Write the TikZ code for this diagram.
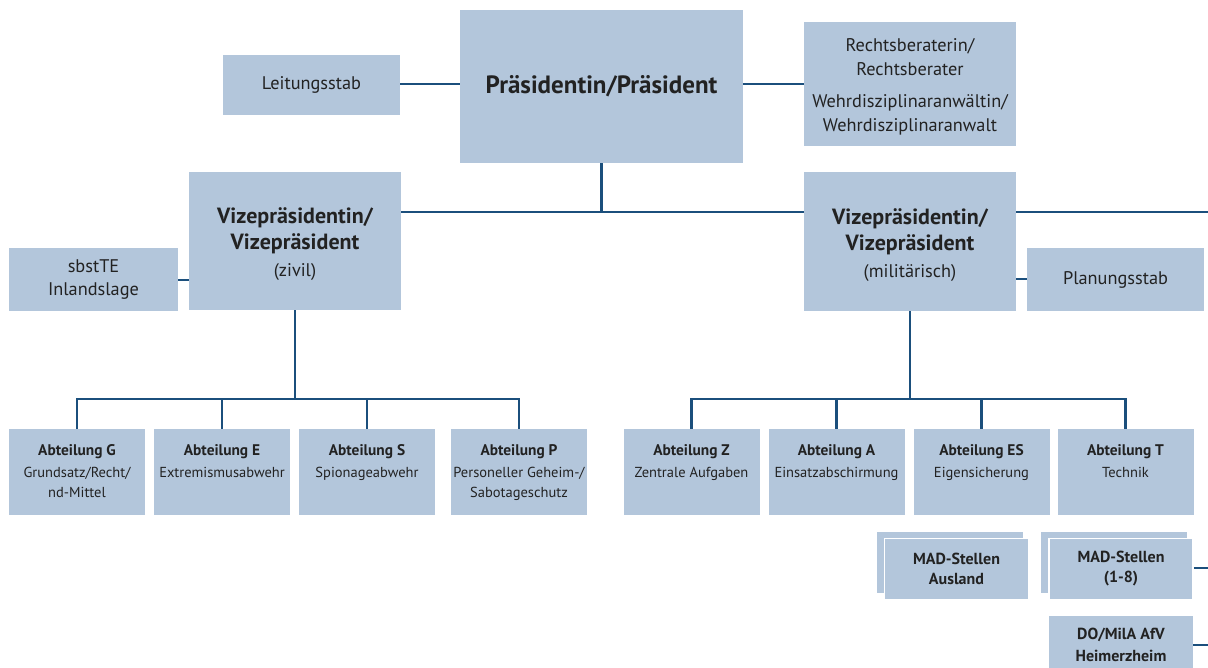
\documentclass[tikz,border=0pt]{standalone}
\usepackage{fontspec}
\setmainfont{PT Sans}
\definecolor{boxfill}{HTML}{B3C6DB}
\definecolor{linec}{HTML}{1B4F7C}
\definecolor{txt}{HTML}{222222}
\begin{document}
\begin{tikzpicture}[x=1pt,y=-1pt,
  box/.style={fill=boxfill,draw=none,inner sep=0pt,align=center,text=txt},
  conn/.style={draw=linec,line width=2.1pt},
  abt/.style={box,minimum width=136pt,minimum height=86pt},
  stackfront/.style={box,draw=white,line width=1.5pt,minimum width=144pt,minimum height=61pt},
  stackback/.style={fill=boxfill,draw=none}
]
\useasboundingbox[fill=white] (0,0) rectangle (1208,668);

% top level
\node[box,minimum width=283pt,minimum height=153pt,font=\fontsize{25}{29}\selectfont\bfseries] (P) at (601.5,86.5) {Präsidentin/Präsident};
\node[box,minimum width=177pt,minimum height=60pt,font=\fontsize{18.3}{22}\selectfont] (L) at (311.5,85) {Leitungsstab};
\node[box,minimum width=212pt,minimum height=124pt] (R) at (910,84) {\begin{minipage}[c][124pt][c]{212pt}\centering\vspace*{6pt}\fontsize{18.3}{24}\selectfont Rechtsberaterin/\par Rechtsberater\par\vspace{8pt}Wehrdisziplinaranwältin/\par Wehrdisziplinaranwalt\par\end{minipage}};

% vice presidents
\newcommand{\vptext}[1]{\begin{minipage}[c][138pt][c]{212pt}\centering\vspace*{7pt}{\fontsize{22}{26}\selectfont\bfseries Vizepräsidentin/\par Vizepräsident\par}\vspace{5pt}{\fontsize{18.3}{22}\selectfont #1\par}\end{minipage}}
\node[box,minimum width=212pt,minimum height=138pt] (VZ) at (295,241) {\vptext{(zivil)}};
\node[box,minimum width=212pt,minimum height=139pt] (VM) at (910,241.5) {\vptext{(militärisch)}};
\node[box,minimum width=169pt,minimum height=63pt,font=\fontsize{18.3}{23}\selectfont] (SB) at (93.5,279.5) {sbstTE\\Inlandslage};
\node[box,minimum width=177pt,minimum height=63pt,font=\fontsize{18.3}{22}\selectfont] (PL) at (1115.5,279.5) {Planungsstab};

% departments
\newcommand{\abtext}[2]{\begin{minipage}[c][86pt][t]{136pt}\centering\vspace*{16pt}{\fontsize{15.4}{18}\selectfont\bfseries #1\par}\vspace{2.5pt}{\fontsize{14.5}{19.5}\selectfont #2\par}\end{minipage}}
\node[abt] (G) at (77,472) {\abtext{Abteilung G}{Grundsatz/Recht/\\nd-Mittel}};
\node[abt] (E) at (222,472) {\abtext{Abteilung E}{Extremismusabwehr}};
\node[abt] (S) at (367,472) {\abtext{Abteilung S}{Spionageabwehr}};
\node[abt] (AP) at (519,472) {\abtext{Abteilung P}{Personeller Geheim-/\\Sabotageschutz}};
\node[abt] (Z) at (691.5,472) {\abtext{Abteilung Z}{Zentrale Aufgaben}};
\node[abt] (A) at (836.5,472) {\abtext{Abteilung A}{Einsatzabschirmung}};
\node[abt] (ES) at (981.5,472) {\abtext{Abteilung ES}{Eigensicherung}};
\node[abt] (T) at (1125.5,472) {\abtext{Abteilung T}{Technik}};

% MAD stacks
\fill[stackback] (877,532) rectangle (1023,593);
\node[stackfront,font=\fontsize{16}{20}\selectfont\bfseries] (MA) at (956.5,569) {MAD-Stellen\\Ausland};
\fill[stackback] (1041,532) rectangle (1187,593);
\node[stackfront,font=\fontsize{16}{20}\selectfont\bfseries] (M18) at (1121,569) {MAD-Stellen\\(1-8)};
\node[box,minimum width=144pt,minimum height=74pt] (DO) at (1121,653) {\begin{minipage}[c][74pt][t]{144pt}\centering\vspace*{12pt}\fontsize{16}{22}\selectfont\bfseries DO/MilA AfV\par Heimerzheim\end{minipage}};

% connector points
\coordinate (j) at (601.5,212);
\coordinate (e1) at (1208,212);
\coordinate (bz) at (295,399);
\coordinate (bm) at (910,399);
\coordinate (e2) at (1208,568);
\coordinate (e3) at (1208,645);

% connectors
\draw[conn] (L.east |- 0,84) -- (P.west |- 0,84);
\draw[conn] (P.east |- 0,84) -- (R.west |- 0,84);
\draw[conn] (P.south) -- (j);
\draw[conn] (VZ.east |- j) -- (VM.west |- j);
\draw[conn] (VM.east |- j) -- (e1);
\draw[conn] (SB.east |- 0,280) -- (VZ.west |- 0,280);
\draw[conn] (VM.east |- 0,279) -- (PL.west |- 0,279);
\draw[conn] (VZ.south) -- (bz);
\draw[conn] (G.north) |- (bz) -| (AP.north);
\draw[conn] (E.north) -- (E.north |- bz);
\draw[conn] (S.north) -- (S.north |- bz);
\draw[conn] (VM.south) -- (bm);
\draw[conn] (Z.north) |- (bm) -| (T.north);
\draw[conn] (A.north) -- (A.north |- bm);
\draw[conn] (ES.north) -- (ES.north |- bm);
\draw[conn] (M18.east |- e2) -- (e2);
\draw[conn] (DO.east |- e3) -- (e3);
\end{tikzpicture}
\end{document}
